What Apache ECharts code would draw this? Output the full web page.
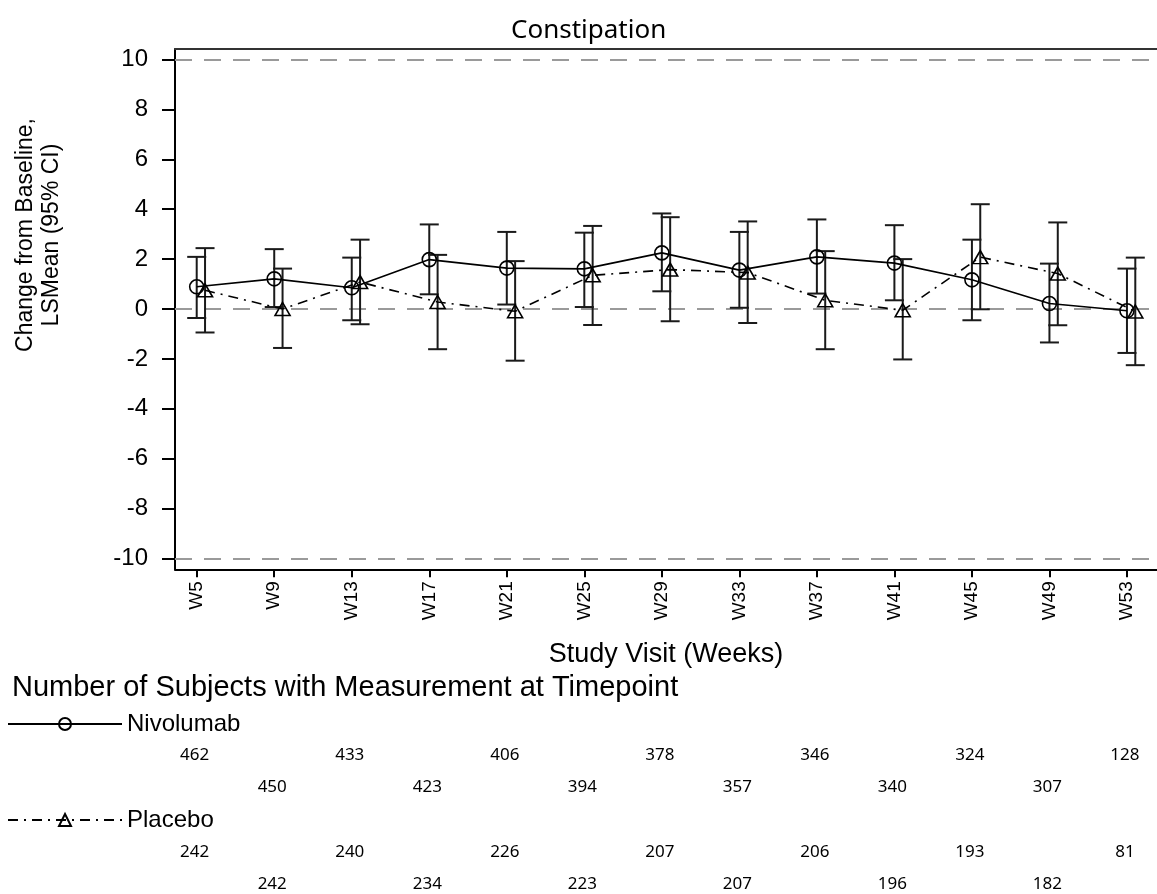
<!DOCTYPE html>
<html><head><meta charset="utf-8">
<script src="https://cdn.jsdelivr.net/npm/echarts@6/dist/echarts.min.js"></script>
<style>html,body{margin:0;padding:0;background:#fff}#c{width:1157px;height:894px}</style>
</head><body><div id="c"></div>
<script>
const weeks = [5, 9, 13, 17, 21, 25, 29, 33, 37, 41, 45, 49, 53];
const weekLabels = ['W5','W9','W13','W17','W21','W25','W29','W33','W37','W41','W45','W49','W53'];
const nivoMean  = [0.89, 1.21, 0.85, 1.98, 1.64, 1.61, 2.25, 1.56, 2.09, 1.84, 1.17, 0.22, -0.07];
const nivoLower = [-0.36, 0.08, -0.45, 0.59, 0.18, 0.08, 0.71, 0.05, 0.62, 0.35, -0.45, -1.34, -1.76];
const nivoUpper = [2.09, 2.40, 2.06, 3.39, 3.09, 3.06, 3.83, 3.09, 3.59, 3.36, 2.78, 1.82, 1.62];
const placMean  = [0.75, 0.00, 1.08, 0.28, -0.09, 1.35, 1.58, 1.46, 0.35, -0.05, 2.08, 1.42, -0.10];
const placLower = [-0.94, -1.56, -0.61, -1.61, -2.07, -0.64, -0.49, -0.56, -1.61, -2.02, -0.01, -0.65, -2.25];
const placUpper = [2.44, 1.62, 2.78, 2.17, 1.92, 3.33, 3.68, 3.51, 2.32, 2.00, 4.20, 3.47, 2.06];
const nivoN = [462, 450, 433, 423, 406, 394, 378, 357, 346, 340, 324, 307, 128];
const placN = [242, 242, 240, 234, 226, 223, 207, 207, 206, 196, 193, 182, 81];
const yTicks = [-10, -8, -6, -4, -2, 0, 2, 4, 6, 8, 10];
const refLines = [10, 0, -10];
const seriesNames = ['Nivolumab', 'Placebo'];
const tableHeader = 'Number of Subjects with Measurement at Timepoint';
const yTitleLines = ['Change from Baseline,', 'LSMean (95% CI)'];

const PLAC_OFFSET = 0.43; // cluster offset (weeks) for the placebo group
const SANS = '"Liberation Sans", Arial, sans-serif';
const NUMFONT = '"Noto Sans", "Open Sans", sans-serif';

function errBar(params, api) {
  const x = api.value(0);
  const lo = api.coord([x, api.value(1)]);
  const hi = api.coord([x, api.value(2)]);
  const hw = 9.5;
  const st = { stroke: '#1a1a1a', lineWidth: 2 };
  return { type: 'group', children: [
    { type: 'line', shape: { x1: lo[0], y1: lo[1], x2: hi[0], y2: hi[1] }, style: st },
    { type: 'line', shape: { x1: lo[0] - hw, y1: lo[1], x2: lo[0] + hw, y2: lo[1] }, style: st },
    { type: 'line', shape: { x1: hi[0] - hw, y1: hi[1], x2: hi[0] + hw, y2: hi[1] }, style: st }
  ]};
}

const chart = echarts.init(document.getElementById('c'), null, { renderer: 'canvas' });
const xMin = 3.88, xMax = 54.55;
chart.setOption({
  animation: false,
  backgroundColor: '#fff',
  title: { text: 'Constipation', left: 506, top: 13,
    textStyle: { fontFamily: NUMFONT, fontSize: 26, fontWeight: 'normal', color: '#000' } },
  grid: { left: 175, right: 0, top: 49, bottom: 324.7, containLabel: false },
  legend: [
    { data: [seriesNames[0]], left: 2, top: 707, itemWidth: 114, itemHeight: 15, itemGap: 0,
      textStyle: { fontFamily: SANS, fontSize: 24, color: '#000' } },
    { data: [seriesNames[1]], left: 2, top: 803, itemWidth: 114, itemHeight: 15, itemGap: 0,
      textStyle: { fontFamily: SANS, fontSize: 24, color: '#000' } }
  ],
  xAxis: [{
    type: 'value', min: xMin, max: xMax, position: 'bottom',
    axisLine: { show: true, onZero: false, lineStyle: { color: '#000', width: 2 } },
    axisTick: { show: true, customValues: weeks, length: 8, lineStyle: { color: '#000', width: 2 } },
    axisLabel: { show: true, customValues: weeks, rotate: 90, margin: 12,
      formatter: v => weekLabels[weeks.indexOf(v)],
      fontFamily: SANS, fontSize: 19, color: '#000' },
    splitLine: { show: false },
    name: 'Study Visit (Weeks)', nameLocation: 'middle', nameGap: 72,
    nameTextStyle: { fontFamily: SANS, fontSize: 27, color: '#000' }
  }, {
    type: 'value', min: xMin, max: xMax, position: 'top',
    axisLine: { show: true, onZero: false, lineStyle: { color: '#333', width: 2 } },
    axisTick: { show: false }, axisLabel: { show: false }, splitLine: { show: false }
  }],
  yAxis: {
    type: 'value', min: -10.43, max: 10.42,
    axisLine: { show: true, onZero: false, lineStyle: { color: '#000', width: 2 } },
    axisTick: { show: true, customValues: yTicks, length: 13, lineStyle: { color: '#000', width: 2 } },
    axisLabel: { show: true, customValues: yTicks, margin: 27,
      fontFamily: SANS, fontSize: 24, color: '#000' },
    splitLine: { show: false }
  },
  series: [
    { type: 'custom', name: 'nivoCI', renderItem: errBar, z: 2,
      encode: { x: 0, y: [1, 2] },
      data: weeks.map((w, i) => [w, nivoLower[i], nivoUpper[i]]),
      markLine: { silent: true, symbol: 'none', label: { show: false }, z: 1,
        lineStyle: { color: '#9a9a9a', type: [17, 12], width: 2 },
        data: refLines.map(v => ({ yAxis: v })) } },
    { type: 'custom', name: 'placCI', renderItem: errBar, z: 2,
      encode: { x: 0, y: [1, 2] },
      data: weeks.map((w, i) => [w + PLAC_OFFSET, placLower[i], placUpper[i]]) },
    { type: 'line', name: seriesNames[0], z: 3,
      data: weeks.map((w, i) => [w, nivoMean[i]]),
      symbol: 'circle', symbolSize: 14, showAllSymbol: true,
      lineStyle: { color: '#000', width: 1.6, type: 'solid' },
      itemStyle: { color: 'rgba(255,255,255,0)', borderColor: '#000', borderWidth: 1.6 } },
    { type: 'line', name: seriesNames[1], z: 3,
      data: weeks.map((w, i) => [w + PLAC_OFFSET, placMean[i]]),
      symbol: 'triangle', symbolSize: [15, 13], showAllSymbol: true,
      lineStyle: { color: '#000', width: 1.6, type: [10, 6, 2, 6] },
      itemStyle: { color: 'rgba(255,255,255,0)', borderColor: '#000', borderWidth: 1.6 } }
  ]
});

const g = [];
// y-axis title (two rotated lines)
yTitleLines.forEach((t, k) => {
  g.push({ type: 'text', x: 26 + k * 26, y: 235, rotation: Math.PI / 2,
    style: { text: t, font: '23px ' + SANS, fill: '#000', align: 'center', verticalAlign: 'middle' } });
});
// Subjects-at-risk table, positioned through the x axis scale
g.push({ type: 'text', left: 12, top: 673,
  style: { text: tableHeader, font: '29px ' + SANS, fill: '#000' } });
const rows = [[nivoN, 755, 787], [placN, 852, 884]];
rows.forEach(([arr, y1, y2]) => {
  arr.forEach((n, i) => {
    const x = chart.convertToPixel({ xAxisIndex: 0 }, weeks[i]);
    g.push({ type: 'text', x: x - 2, y: (i % 2 === 0) ? y1 : y2,
      style: { text: String(n), font: '17px ' + NUMFONT, fill: '#000', align: 'center', verticalAlign: 'middle' } });
  });
});
chart.setOption({ graphic: g });
</script>
</body></html>
